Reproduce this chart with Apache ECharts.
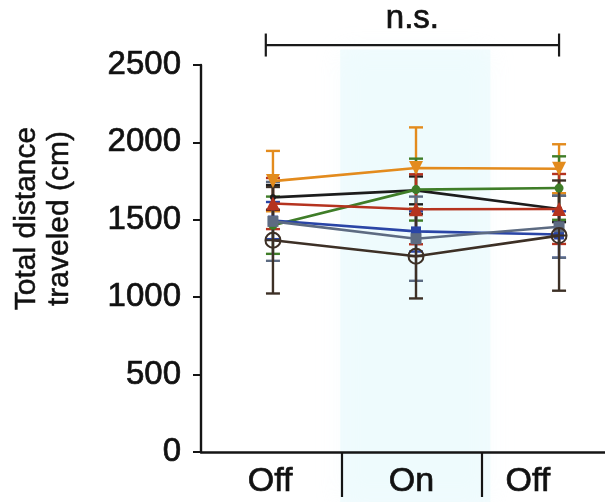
<!DOCTYPE html>
<html>
<head>
<meta charset="utf-8">
<script src="https://cdn.jsdelivr.net/npm/echarts@6/dist/echarts.min.js"></script>
<style>
  html, body { margin: 0; padding: 0; background: #ffffff; }
  #chart { width: 605px; height: 502px; }
</style>
</head>
<body>
<div id="chart"></div>
<script>
// Light phases shown on the category axis
const phases = ['Off', 'On', 'Off'];
// Position of each phase on the data axis
const phaseX = [0, 1, 2];
// Y-axis ticks
const yTicks = [0, 500, 1000, 1500, 2000, 2500];

// Per-animal mean distance (cm) in each phase, and the error (SEM)
const meanOrange = [1750, 1835, 1830];
const errOrange  = [195, 262, 158];
const meanBlack  = [1645, 1690, 1570];
const errBlack   = [80, 90, 85];
const meanGreen  = [1465, 1695, 1705];
const errGreen   = [185, 200, 205];
const meanRed    = [1605, 1568, 1570];
const errRed     = [165, 226, 226];
const meanBlue   = [1495, 1425, 1405];
const errBlue    = [120, 130, 150];
const meanGray   = [1490, 1378, 1455];
const errGray    = [255, 272, 200];
const meanBrown  = [1368, 1265, 1398];
const errBrown   = [344, 273, 356];

// Significance bracket between the two Off phases
const bracketFrom = -0.05;
const bracketTo = 2.0;
const bracketLevel = 2629;
const bracketLabel = 'n.s.';

const FONT = '"Liberation Sans", Arial, Helvetica, sans-serif';
const INK = '#111111';
const circleCross = 'path://M0,10A10,10,0,1,1,20,10A10,10,0,1,1,0,10ZM10,0L10,20M0,10L20,10';

const animals = [
  { id: 'a1', mean: meanOrange, err: errOrange, color: '#e38b1d', symbol: 'triangle', rotate: 180, size: 14 },
  { id: 'a2', mean: meanBlack,  err: errBlack,  color: '#1c1c1c', symbol: 'circle', size: 6 },
  { id: 'a3', mean: meanGreen,  err: errGreen,  color: '#3f7d28', symbol: 'circle', size: 9 },
  { id: 'a4', mean: meanRed,    err: errRed,    color: '#b5331f', symbol: 'triangle', size: 14 },
  { id: 'a5', mean: meanBlue,   err: errBlue,   color: '#2a45a6', symbol: 'rect', size: 10 },
  { id: 'a6', mean: meanGray,   err: errGray,   color: '#5d6b82', symbol: 'rect', size: 11 },
  { id: 'a7', mean: meanBrown,  err: errBrown,  color: '#3d3026', symbol: circleCross, size: 15, hollow: true }
];

function errorBars(color) {
  return function (params, api) {
    const x = api.value(0);
    const lo = api.coord([x, api.value(1)]);
    const hi = api.coord([x, api.value(2)]);
    const w = 7;
    const style = { stroke: color, lineWidth: 2.4 };
    return {
      type: 'group',
      children: [
        { type: 'line', shape: { x1: lo[0], y1: lo[1], x2: hi[0], y2: hi[1] }, style: style },
        { type: 'line', shape: { x1: lo[0] - w, y1: lo[1], x2: lo[0] + w, y2: lo[1] }, style: style },
        { type: 'line', shape: { x1: hi[0] - w, y1: hi[1], x2: hi[0] + w, y2: hi[1] }, style: style }
      ]
    };
  };
}

const series = [];

// Soft highlight behind the "On" phase
series.push({
  type: 'custom',
  xAxisIndex: 1,
  clip: false,
  silent: true,
  z: 0,
  data: [[0.47, 1.52]],
  renderItem: function (params, api) {
    const a = api.coord([api.value(0), 2600]);
    const b = api.coord([api.value(1), -330]);
    return {
      type: 'rect',
      shape: { x: a[0], y: a[1], width: b[0] - a[0], height: b[1] - a[1] },
      style: { fill: 'rgba(220,246,252,0.36)', shadowBlur: 24, shadowColor: 'rgba(220,246,252,0.5)' }
    };
  }
});

animals.forEach(function (an, k) {
  series.push({
    type: 'custom',
    xAxisIndex: 1,
    z: 3 + k,
    data: phaseX.map(function (x, i) { return [x, an.mean[i] - an.err[i], an.mean[i] + an.err[i]]; }),
    renderItem: errorBars(an.color)
  });
});

animals.forEach(function (an, k) {
  series.push({
    type: 'line',
    name: an.id,
    xAxisIndex: 1,
    z: 12 + k,
    data: phaseX.map(function (x, i) { return [x, an.mean[i]]; }),
    symbol: an.symbol,
    symbolRotate: an.rotate || 0,
    symbolSize: an.size,
    showAllSymbol: true,
    lineStyle: { color: an.color, width: 2.6 },
    itemStyle: an.hollow
      ? { color: 'rgba(255,255,255,0)', borderColor: an.color, borderWidth: 2 }
      : { color: an.color, borderWidth: 0 },
    emphasis: { disabled: true },
    animation: false
  });
});

// Bracket with the significance label
series.push({
  type: 'custom',
  xAxisIndex: 1,
  clip: false,
  z: 30,
  data: [[bracketFrom, bracketTo, bracketLevel]],
  renderItem: function (params, api) {
    const p1 = api.coord([api.value(0), api.value(2)]);
    const p2 = api.coord([api.value(1), api.value(2)]);
    const h = 11.5;
    const st = { stroke: '#1a1a1a', lineWidth: 2.2 };
    return {
      type: 'group',
      children: [
        { type: 'line', shape: { x1: p1[0], y1: p1[1], x2: p2[0], y2: p2[1] }, style: st },
        { type: 'line', shape: { x1: p1[0], y1: p1[1] - h, x2: p1[0], y2: p1[1] + h }, style: st },
        { type: 'line', shape: { x1: p2[0], y1: p2[1] - h, x2: p2[0], y2: p2[1] + h }, style: st },
        { type: 'text', x: (p1[0] + p2[0]) / 2, y: p1[1] - 10,
          style: { text: bracketLabel, fill: INK, font: '33px ' + FONT, align: 'center', verticalAlign: 'bottom',
                   stroke: INK, lineWidth: 0.7 } }
      ]
    };
  }
});

// Extra right padding nudges individual phase labels left
const labelShift = [2, 0, 48];

function phaseLabelStyle(shift) {
  return { fontFamily: FONT, fontSize: 34, color: INK, textBorderColor: INK, textBorderWidth: 0.7,
           padding: [0, shift, 0, 0] };
}

const chart = echarts.init(document.getElementById('chart'), null, { renderer: 'canvas' });
chart.setOption({
  animation: false,
  backgroundColor: '#ffffff',
  grid: { left: 201, width: 421, top: 65, bottom: 50, containLabel: false, outerBoundsMode: 'none' },
  xAxis: [
    {
      type: 'category',
      data: phases,
      boundaryGap: true,
      axisLine: { lineStyle: { color: '#151515', width: 2.5 } },
      axisTick: {
        show: true,
        length: 45,
        lineStyle: { color: '#151515', width: 2.2 },
        interval: function (index) { return index !== 0; }
      },
      axisLabel: {
        interval: 0,
        hideOverlap: false,
        margin: 13,
        color: INK,
        fontFamily: FONT,
        fontSize: 34,
        formatter: function (v, i) { return '{p' + i + '|' + v + '}'; },
        rich: {
          p0: phaseLabelStyle(labelShift[0]),
          p1: phaseLabelStyle(labelShift[1]),
          p2: phaseLabelStyle(labelShift[2])
        }
      },
      splitLine: { show: false }
    },
    {
      type: 'value',
      min: -0.503,
      max: 2.44,
      show: false
    }
  ],
  yAxis: {
    type: 'value',
    min: yTicks[0],
    max: yTicks[yTicks.length - 1],
    interval: yTicks[1] - yTicks[0],
    name: 'Total distance\ntraveled (cm)',
    nameLocation: 'middle',
    nameRotate: 90,
    nameGap: 125,
    nameTextStyle: { fontFamily: FONT, fontSize: 30, color: INK, lineHeight: 33, padding: [0, 0, 0, 80],
                     textBorderColor: INK, textBorderWidth: 0.5 },
    axisLine: { show: true, onZero: false, lineStyle: { color: '#151515', width: 2.4 } },
    axisTick: { show: true, length: 8, lineStyle: { color: '#151515', width: 2 } },
    axisLabel: { margin: 20, color: INK, fontFamily: FONT, fontSize: 33, textBorderColor: INK, textBorderWidth: 0.7,
                 formatter: function (v) { return String(v); } },
    splitLine: { show: false }
  },
  series: series
});
</script>
</body>
</html>
